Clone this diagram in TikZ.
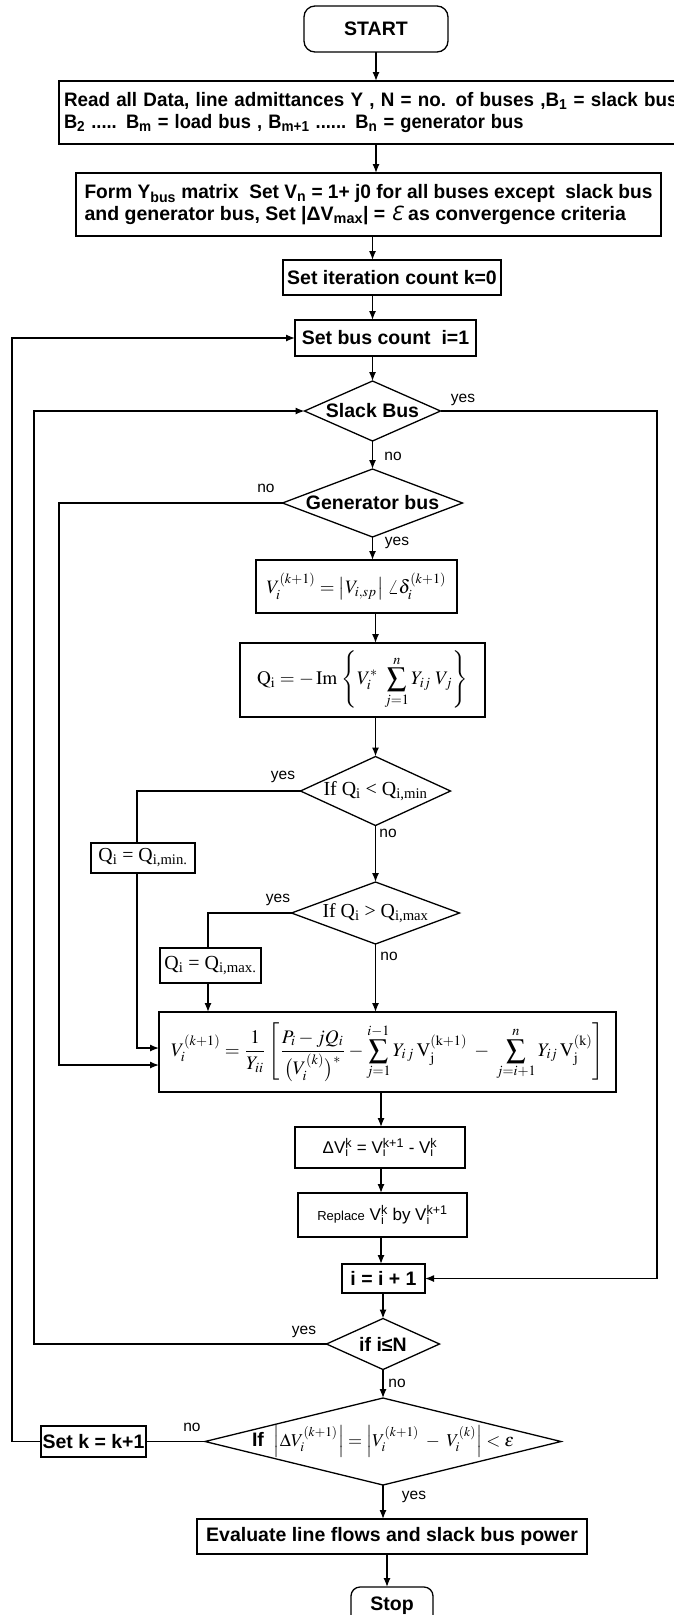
\documentclass[tikz,border=0pt]{standalone}
\usepackage{mathptmx}
\usepackage[no-math]{fontspec}
\setmainfont{Liberation Serif}
\newfontfamily\arialf{Liberation Sans}
\newfontfamily\dvs{DejaVu Sans}
\usetikzlibrary{arrows.meta,shapes.geometric,calc}
\newcommand\bsf{\arialf\bfseries\fontsize{19.5}{21.6}\selectfont}
\newcommand\lblf{\arialf\fontsize{15.5}{17}\selectfont}
\newcommand\rsf{\arialf\fontsize{17}{19}\selectfont}
\newcommand\tmf{\fontsize{21}{24}\selectfont}
\newcommand\ssp[2]{%
  \setbox0\hbox{\textsubscript{#1}}\setbox2\hbox{\textsuperscript{#2}}%
  \ifdim\wd0>\wd2 \rlap{\box2}\box0 \else \rlap{\box0}\box2 \fi}
\tikzset{
  ln/.style={line width=1.3pt},
  arr/.style={ln,-{Latex[length=9pt,width=7pt]}},
  bx/.style={draw,ln,rectangle,inner sep=0pt,outer sep=0pt},
  dia/.style={draw,ln,diamond,inner sep=0pt,outer sep=0pt},
  lbl/.style={font=\lblf,inner sep=0pt},
}
\begin{document}
\begin{tikzpicture}[x=1pt,y=-1pt]
\useasboundingbox (0,0) rectangle (673,1615);
\fill[white] (0,0) rectangle (673,1615);
% column / loop coordinates
\coordinate (xL1) at (12,0);
\coordinate (xL2) at (34,0);
\coordinate (xL3) at (59,0);
\coordinate (xQa) at (137,0);
\coordinate (xQb) at (208,0);
\coordinate (xR) at (657,0);
\coordinate (cA) at (381,0);
\coordinate (cB) at (387,0);

% nodes
\node[bx,rounded corners=11pt,minimum width=144pt,minimum height=46pt,font=\bsf] (start) at (376,29) {START};
\node[bx,anchor=north west,minimum height=63pt,text width=680pt,align=left,inner xsep=5pt,font=\bsf] (read) at (59,81)
 {\scalebox{0.965}[1]{Read all Data, line admittances Y , N = no. of buses ,B\textsubscript{1} = slack bus}\\
  \scalebox{0.94}[1]{B\textsubscript{2} ..... B\textsubscript{m} = load bus , B\textsubscript{m+1} ...... B\textsubscript{n} = generator bus}};
\node[bx,minimum width=585pt,minimum height=63pt,align=left,font=\bsf] (form) at (368.5,204.5)
 {\scalebox{0.98}[1]{Form Y\textsubscript{bus} matrix\ \ Set V\textsubscript{n} = 1+ j0 for all buses except\ \ slack bus}\\
  and generator bus, Set |ΔV\textsubscript{max}| = {\dvs\mdseries\itshape Ɛ} as convergence criteria};
\node[bx,minimum width=218pt,minimum height=35pt,font=\bsf] (iter) at (392,277.5) {Set iteration count k=0};
\node[bx,minimum width=181pt,minimum height=36pt,font=\bsf] (bus) at (385.5,338) {Set bus count\ \ i=1};
\node[dia,minimum width=136pt,minimum height=60pt,label={[font=\bsf]center:Slack Bus}] (slack) at (372.5,411) {};
\node[dia,minimum width=180pt,minimum height=68pt,label={[font=\bsf]center:Generator bus}] (gen) at (372.5,503) {};
\node[bx,minimum width=201pt,minimum height=53pt] (vsp) at (356.5,586.5)
 {\resizebox{180pt}{!}{$V_i^{(k+1)} = \bigl|V_{i,sp}\bigr|\;\angle\delta_i^{(k+1)}$}};
\node[bx,minimum width=245pt,minimum height=74pt] (qcalc) at (362.5,680)
 {\resizebox{211pt}{!}{$\displaystyle \mathrm{Q_i} = -\,\mathrm{Im}\,\left\{V_i^{*}\;\sum_{j=1}^{n} Y_{ij}\;V_j\right\}$}};
\node[dia,minimum width=150pt,minimum height=69pt,label={center:{\resizebox{104pt}{!}{\tmf If Q\textsubscript{i} < Q\textsubscript{i,min}}}}] (qmin) at (375.5,791) {};
\node[bx,minimum width=104pt,minimum height=30pt] (qminb) at (143,858)
 {\resizebox{89pt}{!}{\tmf Q\textsubscript{i} = Q\textsubscript{i,min.}}};
\node[dia,minimum width=168pt,minimum height=62pt,label={center:{\resizebox{106pt}{!}{\tmf If Q\textsubscript{i} > Q\textsubscript{i,max}}}}] (qmax) at (375.5,913) {};
\node[bx,minimum width=101pt,minimum height=35pt] (qmaxb) at (210.5,965.5)
 {\resizebox{92pt}{!}{\tmf Q\textsubscript{i} = Q\textsubscript{i,max.}}};
\node[bx,minimum width=457pt,minimum height=80pt] (big) at (387.5,1052)
 {\resizebox{433pt}{!}{$\displaystyle V_i^{(k+1)} = \frac{1}{Y_{ii}}\left[\frac{P_i - jQ_i}{\bigl(V_i^{(k)}\bigr)^{*}} - \sum_{j=1}^{i-1} Y_{i\,j}\,\mathrm{V}_{\mathrm{j}}^{(\mathrm{k+1})} \;-\; \sum_{j=i+1}^{n} Y_{ij}\,\mathrm{V}_{\mathrm{j}}^{(\mathrm{k})}\right]$}};
\node[bx,minimum width=170pt,minimum height=41pt,font=\rsf] (dv) at (380,1147.5)
 {ΔV\ssp{i}{k} = V\ssp{i}{k+1} - V\ssp{i}{k}};
\node[bx,minimum width=169pt,minimum height=44pt,font=\rsf] (rep) at (382.5,1215)
 {{\fontsize{13}{15}\selectfont Replace} V\ssp{i}{k} by V\ssp{i}{k+1}};
\node[bx,minimum width=83pt,minimum height=29pt,font=\bsf] (inc) at (383.5,1278.5) {i = i + 1};
\node[dia,minimum width=113pt,minimum height=51pt,label={[font=\bsf]center:if i≤N}] (iN) at (383,1344) {};
\node[dia,minimum width=356pt,minimum height=87pt,
  label={center:{{\bsf If}\quad\resizebox{240pt}{!}{$\left|\Delta V_i^{(k+1)}\right| = \left|V_i^{(k+1)} \;-\; V_i^{(k)}\right| < \varepsilon$}}}] (fin) at (383,1441.5) {};
\node[bx,minimum width=105pt,minimum height=31pt,font=\bsf] (setk) at (93.5,1441.5) {Set k = k+1};
\node[bx,minimum width=390pt,minimum height=35pt,font=\bsf] (eval) at (392,1536.5) {Evaluate line flows and slack bus power};
\node[bx,rounded corners=9pt,minimum width=82pt,minimum height=38pt,font=\bsf] (stop) at (392,1606) {Stop};

% labels
\node[lbl] (l1) at (463,400) {yes};
\node[lbl] (l2) at (393,456) {no};
\node[lbl] (l3) at (266,488) {no};
\node[lbl] (l4) at (397,543) {yes};
\node[lbl] (l5) at (283,777) {yes};
\node[lbl] (l6) at (388,833) {no};
\node[lbl] (l7) at (278,900) {yes};
\node[lbl] (l8) at (389,956) {no};
\node[lbl] (l9) at (304,1332) {yes};
\node[lbl] (l10) at (397,1383) {no};
\node[lbl] (l11) at (192,1427) {no};
\node[lbl] (l12) at (414,1497) {yes};

% main column
\draw[arr] (start.south) -- (start.south |- read.north);
\draw[arr] (start.south |- read.south) -- (start.south |- form.north);
\draw[arr] (form.south -| slack.north) -- (iter.north -| slack.north);
\draw[arr] (iter.south -| slack.north) -- (bus.north -| slack.north);
\draw[arr] (bus.south -| slack.north) -- (slack.north);
\draw[arr] (slack.south) -- (gen.north);
\draw[arr] (gen.south) -- (gen.south |- vsp.north);
\draw[arr] (vsp.south -| qmin.north) -- (qcalc.north -| qmin.north);
\draw[arr] (qcalc.south -| qmin.north) -- (qmin.north);
\draw[arr] (qmin.south) -- (qmax.north);
\draw[arr] (qmax.south) -- (qmax.south |- big.north);
\draw[arr] (big.south -| cA) -- (dv.north -| cA);
\draw[arr] (dv.south -| cA) -- (rep.north -| cA);
\draw[arr] (rep.south -| cA) -- (inc.north -| cA);
\draw[arr] (inc.south -| iN.north) -- (iN.north);
\draw[arr] (iN.south) -- (fin.north);
\draw[arr] (fin.south) -- (fin.south |- eval.north);
\draw[arr] (eval.south -| cB) -- (stop.north -| cB);

% branches and loops
\draw[arr] (slack.east) -- (slack.east -| xR) |- (inc.east);
\draw[arr] (gen.west) -- (gen.west -| xL3) |- ($(big.west)+(0,13)$);
\draw[ln] (qmin.west) -- (qmin.west -| xQa) -- (qminb.north -| xQa);
\draw[arr] (qminb.south -| xQa) |- ($(big.west)+(0,-4)$);
\draw[ln] (qmax.west) -- (qmax.west -| xQb) -- (qmaxb.north -| xQb);
\draw[arr] (qmaxb.south -| xQb) -- (big.north -| xQb);
\draw[arr] (iN.west) -- (iN.west -| xL2) |- (slack.west);
\draw[ln] (fin.west) -- (setk.east);
\draw[arr] (setk.west) -- (setk.west -| xL1) |- (bus.west);
\end{tikzpicture}
\end{document}
